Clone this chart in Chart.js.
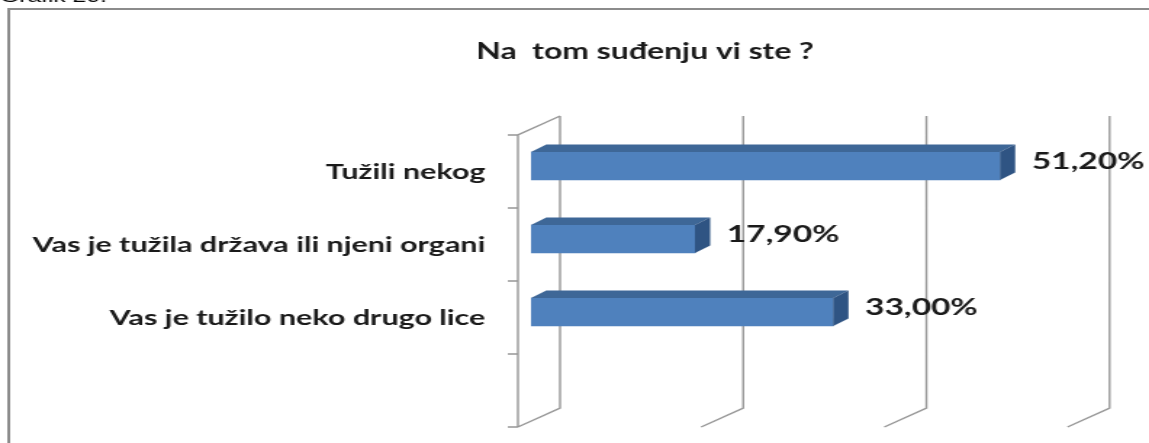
<!DOCTYPE html>
<html>
<head>
<meta charset="utf-8">
<script src="https://cdn.jsdelivr.net/npm/chart.js@4/dist/chart.umd.min.js"></script>
<style>
  html, body { margin: 0; padding: 0; background: #fff; overflow: hidden; }
  /* the original picture is stretched sideways, so the whole chart is too */
  #wrap { width: 792px; height: 443px; transform: scaleX(1.4508); transform-origin: 0 0; }
</style>
</head>
<body>
<div id="wrap"><canvas id="chart"></canvas></div>
<script>
const caption = 'Grafik 20.';
const title = 'Na  tom suđenju vi ste ?';
const categories = ['Tužili nekog', 'Vas je tužila država ili njeni organi', 'Vas je tužilo neko drugo lice', ''];
const values = [51.2, 17.9, 33.0, null];
const xTicks = [0, 20, 40, 60];

function pct(v) {
    return v.toFixed(2).replace('.', ',') + '%';
}

// frame, title, back walls and the 3D faces of the bars
const frame3d = {
    id: 'frame3d',
    beforeDraw(chart) {
        const ctx = chart.ctx;
        ctx.save();
        ctx.fillStyle = '#fff';
        ctx.fillRect(0, 0, chart.width, chart.height);
        ctx.strokeStyle = '#8c8c8c';
        ctx.lineWidth = 2;
        ctx.beginPath();
        ctx.moveTo(6, chart.height);
        ctx.lineTo(6, 9);
        ctx.lineTo(chart.width, 9);
        ctx.stroke();
        ctx.fillStyle = '#000';
        ctx.font = '17px "Liberation Sans"';
        ctx.textBaseline = 'alphabetic';
        ctx.fillText(caption, 0, 2);
        ctx.font = 'bold 22px Lato';
        ctx.textAlign = 'center';
        ctx.textBaseline = 'middle';
        ctx.fillStyle = '#1a1a1a';
        ctx.fillText(title, 444.6, 52);
        ctx.restore();
    },
    beforeDatasetsDraw(chart) {
        const ctx = chart.ctx;
        const xs = chart.scales.x;
        const area = chart.chartArea;
        const frontX = xs.getPixelForValue(0) - 9;
        const frontTop = area.top + 5.5;
        const frontBot = area.bottom + 5.5;
        const dx = 29, dy = -19;
        ctx.save();
        ctx.strokeStyle = '#979797';
        ctx.lineWidth = 1.4;
        ctx.beginPath();
        xTicks.forEach(v => {
            const bx = xs.getPixelForValue(v) + 20;
            ctx.moveTo(bx, frontTop + dy);
            ctx.lineTo(bx, frontBot + dy);
            ctx.lineTo(bx - dx, frontBot);
        });
        ctx.moveTo(frontX + dx, frontTop + dy);
        ctx.lineTo(frontX, frontTop);
        ctx.lineTo(frontX, frontBot);
        const step = (frontBot - frontTop) / categories.length;
        for (let i = 0; i <= categories.length; i++) {
            const ty = frontTop + i * step;
            ctx.moveTo(frontX - 7, ty);
            ctx.lineTo(frontX, ty);
        }
        ctx.stroke();
        ctx.restore();
    },
    afterDatasetsDraw(chart) {
        const ctx = chart.ctx;
        const meta = chart.getDatasetMeta(0);
        const ddx = 10.5, ddy = -7.5;
        ctx.save();
        meta.data.forEach((bar, i) => {
            if (values[i] == null) return;
            const p = bar.getProps(['x', 'y', 'base', 'height'], true);
            const top = p.y - p.height / 2;
            const bot = p.y + p.height / 2;
            ctx.fillStyle = '#3e6797';
            ctx.beginPath();
            ctx.moveTo(p.base, top);
            ctx.lineTo(p.x, top);
            ctx.lineTo(p.x + ddx, top + ddy);
            ctx.lineTo(p.base + ddx, top + ddy);
            ctx.closePath();
            ctx.fill();
            ctx.fillStyle = '#2f5483';
            ctx.beginPath();
            ctx.moveTo(p.x, top);
            ctx.lineTo(p.x + ddx, top + ddy);
            ctx.lineTo(p.x + ddx, bot + ddy);
            ctx.lineTo(p.x, bot);
            ctx.closePath();
            ctx.fill();
            ctx.fillStyle = '#1a1a1a';
            ctx.font = 'bold 23px Lato';
            ctx.textAlign = 'left';
            ctx.textBaseline = 'middle';
            ctx.fillText(pct(values[i]), p.x + 22, p.y - 4);
        });
        ctx.restore();
    }
};

const chart = new Chart(document.getElementById('chart').getContext('2d'), {
    type: 'bar',
    data: {
        labels: categories,
        datasets: [{
            data: values,
            backgroundColor: '#4f81bd',
            borderWidth: 0,
            barThickness: 28
        }]
    },
    options: {
        indexAxis: 'y',
        responsive: true,
        maintainAspectRatio: false,
        animation: false,
        layout: { padding: { top: 129.5, bottom: 21.5, left: 0, right: 47.2 } },
        plugins: {
            legend: { display: false },
            title: { display: false },
            tooltip: { enabled: false }
        },
        scales: {
            x: {
                min: 0,
                max: 60,
                display: false,
                ticks: { stepSize: 20 }
            },
            y: {
                grid: { display: false, drawTicks: false },
                border: { display: false },
                ticks: {
                    color: '#1a1a1a',
                    font: { family: 'Lato', size: 21, weight: 'bold' },
                    padding: 31.5,
                    labelOffset: 6
                },
                afterFit(scale) {
                    scale.width = 366;
                    scale.paddingTop = 0;
                    scale.paddingBottom = 0;
                }
            }
        }
    },
    plugins: [frame3d]
});
</script>
</body>
</html>
